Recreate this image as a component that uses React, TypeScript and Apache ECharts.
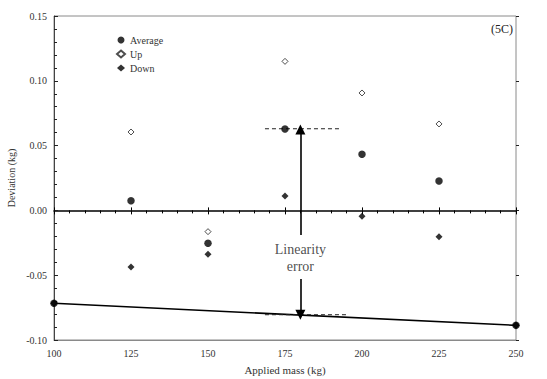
import React, { useEffect, useRef } from "react";
import * as echarts from "echarts";

const masses = [100, 125, 150, 175, 200, 225, 250];
const averageVals = [-0.0717, 0.0075, -0.0254, 0.0628, 0.0433, 0.0227, -0.0887];
const upVals = [-0.0717, 0.0605, -0.0164, 0.1150, 0.0906, 0.0667, -0.0887];
const downVals = [-0.0717, -0.0437, -0.0339, 0.0111, -0.0046, -0.0203, -0.0887];
const fitLine = [[100, -0.0717], [250, -0.0887]];
const upperDash = [[168.5, 0.063], [193, 0.063]];
const lowerDash = [[168.5, -0.0805], [195, -0.0805]];
const upArrow = [[180, -0.019], [180, 0.0625]];
const downArrow = [[180, -0.053], [180, -0.0805]];
const noteLabel = [180, -0.037];
const yTicks = { min: -0.1, max: 0.15, interval: 0.05 };
const xTicks = { min: 100, max: 250, interval: 25 };

const FONT = "'Liberation Serif', 'Times New Roman', serif";

export default function App() {
  const ref = useRef<HTMLDivElement>(null);
  useEffect(() => {
    if (!ref.current) return;
    const chart = echarts.init(ref.current, undefined, { renderer: "svg" });
    const pair = (xs: number[], ys: number[]) => xs.map((x, i) => [x, ys[i]]);
    const seg = (p: number[][]) => [{ coord: p[0] }, { coord: p[1] }];
    chart.setOption({
      animation: false,
      textStyle: { fontFamily: FONT },
      grid: {
        left: 54, right: 31, top: 16, bottom: 39,
        outerBoundsMode: "none",
        show: true, borderColor: "#8a8a8a", borderWidth: 1,
      },
      legend: {
        orient: "vertical",
        left: 116,
        top: 35,
        padding: 0,
        itemWidth: 8,
        itemHeight: 7,
        itemGap: 4,
        textStyle: { fontFamily: FONT, fontSize: 10, color: "#333" },
        data: [
          { name: "Average", icon: "circle" },
          { name: "Up", icon: "diamond" },
          { name: "Down", icon: "diamond" },
        ],
      },
      graphic: [
        {
          type: "text",
          right: 34,
          top: 23,
          style: { text: "(5C)", fontFamily: FONT, fontSize: 12, fill: "#222" },
        },
      ],
      xAxis: [
        {
          type: "value",
          ...xTicks,
          name: "Applied mass (kg)",
          nameLocation: "middle",
          nameGap: 24,
          nameMoveOverlap: false,
          nameTextStyle: { fontFamily: FONT, fontSize: 11, color: "#333" },
          axisLine: { onZero: false, lineStyle: { color: "#8a8a8a", width: 1 } },
          axisTick: { show: false },
          axisLabel: { fontFamily: FONT, fontSize: 10, color: "#333", margin: 8 },
          splitLine: { show: false },
        },
        {
          type: "value",
          ...xTicks,
          axisLine: { onZero: true, lineStyle: { color: "#000", width: 1.5 } },
          axisTick: { show: true, inside: true, length: 4, lineStyle: { color: "#000" } },
          minorTick: { show: true, splitNumber: 5, length: 3, lineStyle: { color: "#000" } },
          axisLabel: { show: false },
          splitLine: { show: false },
        },
        {
          type: "value",
          ...xTicks,
          axisLine: { onZero: true, show: false },
          axisTick: { show: true, inside: false, length: 3, lineStyle: { color: "#000" } },
          axisLabel: { show: false },
          splitLine: { show: false },
        },
      ],
      yAxis: [
        {
          type: "value",
          ...yTicks,
          name: "Deviation (kg)",
          nameLocation: "middle",
          nameGap: 38,
          nameMoveOverlap: false,
          nameTextStyle: { fontFamily: FONT, fontSize: 10, color: "#333" },
          axisLine: { show: true, onZero: false, lineStyle: { color: "#444", width: 1 } },
          axisTick: { show: true, inside: true, length: 4, lineStyle: { color: "#222" } },
          minorTick: { show: true, splitNumber: 5, length: 3, lineStyle: { color: "#222" } },
          axisLabel: { fontFamily: FONT, fontSize: 10, color: "#333", margin: 7, formatter: (v: number) => v.toFixed(2) },
          splitLine: { show: false },
        },
        {
          type: "value",
          ...yTicks,
          axisLine: { show: false, onZero: false },
          axisTick: { show: true, inside: false, length: 3, lineStyle: { color: "#222" } },
          axisLabel: { show: false },
          splitLine: { show: false },
        },
      ],
      series: [
        {
          type: "line",
          data: fitLine,
          symbol: "none",
          lineStyle: { color: "#000", width: 1.6 },
          z: 3,
          markLine: {
            silent: true,
            symbol: ["none", "triangle"],
            symbolSize: 10,
            label: { show: false },
            itemStyle: { color: "#000" },
            lineStyle: { color: "#000", width: 1.6, type: "solid" },
            data: [seg(upArrow), seg(downArrow)],
          },
        },
        {
          type: "line",
          data: upperDash,
          symbol: "none",
          lineStyle: { color: "#222", width: 1, type: [4, 3] },
        },
        {
          type: "line",
          data: lowerDash,
          symbol: "none",
          lineStyle: { color: "#222", width: 1, type: [4, 3] },
        },
        {
          type: "scatter",
          data: [noteLabel],
          symbolSize: 0,
          label: {
            show: true,
            position: "inside",
            formatter: "Linearity\nerror",
            fontFamily: FONT,
            fontSize: 14,
            lineHeight: 17,
            color: "#222",
            align: "center",
          },
        },
        {
          name: "Up",
          type: "scatter",
          data: pair(masses, upVals),
          symbol: "diamond",
          symbolSize: 6,
          itemStyle: { color: "#fff", borderColor: "#222", borderWidth: 1 },
          z: 5,
        },
        {
          name: "Down",
          type: "scatter",
          data: pair(masses, downVals),
          symbol: "diamond",
          symbolSize: 7,
          itemStyle: { color: "#000" },
          z: 5,
        },
        {
          name: "Average",
          type: "scatter",
          data: pair(masses, averageVals),
          symbol: "circle",
          symbolSize: 7.5,
          itemStyle: { color: "#000" },
          z: 6,
        },
      ],
    });
    return () => chart.dispose();
  }, []);
  return <div ref={ref} style={{ position: "absolute", left: 0, top: 0, width: 547, height: 379 }} />;
}
